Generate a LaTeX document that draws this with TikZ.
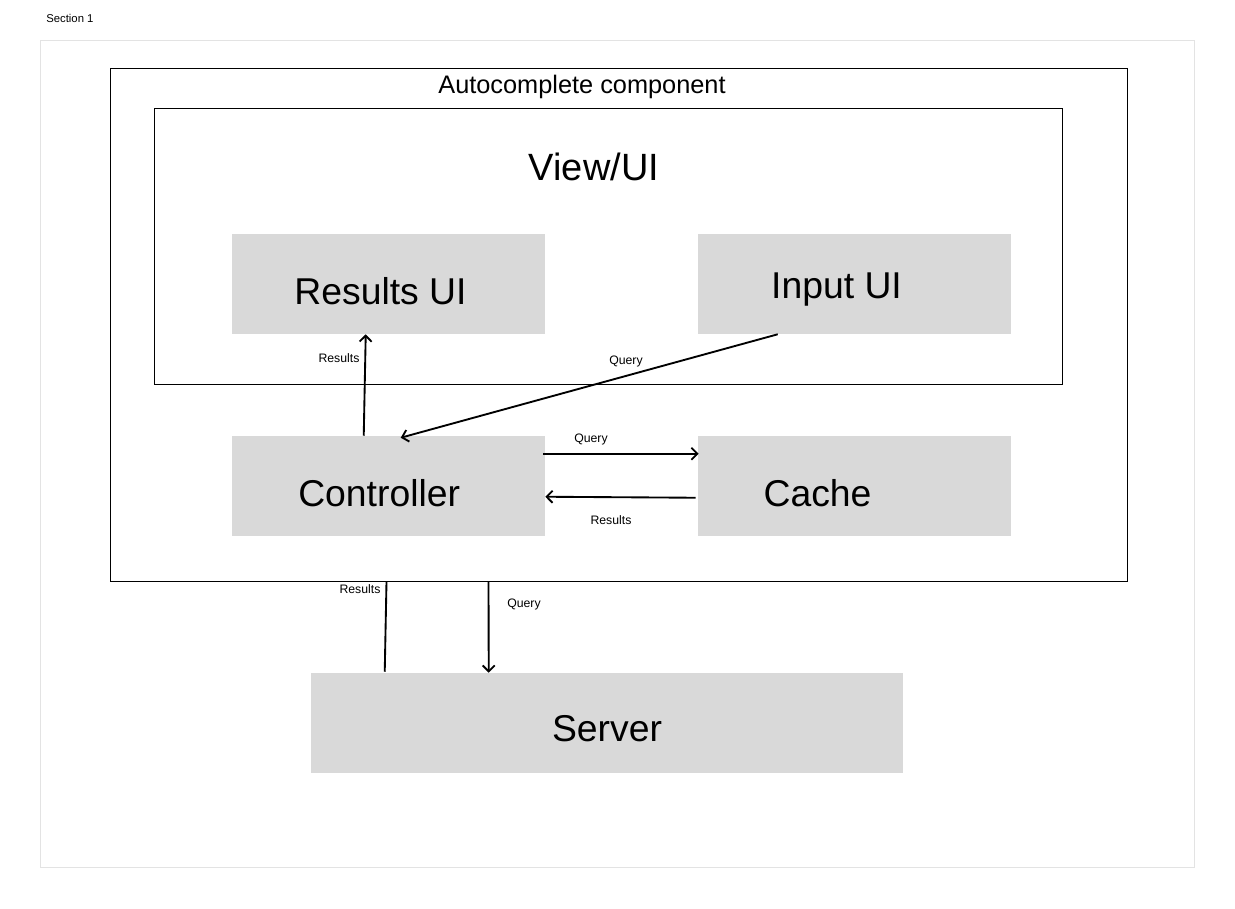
\documentclass[tikz,border=0pt]{standalone}
\usepackage{fontspec}
\setmainfont{Liberation Sans}
\usetikzlibrary{arrows.meta, calc}
\definecolor{boxgray}{HTML}{D9D9D9}
\definecolor{framegray}{HTML}{E3E3E3}

\begin{document}
\begin{tikzpicture}[x=0.75pt, y=-0.75pt,
  box/.style={fill=boxgray, minimum width=234.75pt, minimum height=75pt, inner sep=0pt, text height=30pt, text depth=0pt, font=\fontsize{28}{32}\selectfont},
  frame/.style={draw, line width=0.75pt, inner sep=0pt},
  arr/.style={-{Straight Barb[length=4.5pt, width=9pt]}, line width=1.4pt},
  wire/.style={line width=1.4pt},
  lbl/.style={font=\fontsize{9.2}{11}\selectfont, inner sep=1pt}]
  \useasboundingbox (0,0) rectangle (1235,908);

  % section frame
  \node[anchor=west, font=\fontsize{8.5}{10}\selectfont, inner sep=0pt] (section) at (46,18) {Section 1};
  \node[draw=framegray, line width=0.75pt, minimum width=865.5pt, minimum height=620.25pt] (sheet) at (617,453.5) {};

  % component and view frames
  \node[frame, minimum width=762.75pt, minimum height=384.75pt] (comp) at (618.5,324.5) {};
  \node[font=\fontsize{19}{22}\selectfont, inner sep=0pt] (comptitle) at (582,87) {Autocomplete component};
  \node[frame, minimum width=681pt, minimum height=207pt] (view) at (608,246) {};
  \node[font=\fontsize{28.5}{32}\selectfont, inner sep=0pt] (viewtitle) at (594,167) {View/UI};

  % blocks
  \node[box] (resultsui) at (388.5,284) {Results UI\hspace*{12pt}};
  \node[box, text height=21pt] (inputui) at (854.5,284) {Input UI\hspace*{27pt}};
  \node[box] (ctrl) at (388.5,486) {Controller\hspace*{14pt}};
  \node[box] (cache) at (854.5,486) {Cache\hspace*{55.5pt}};
  \node[box, minimum width=444pt, text height=28pt] (server) at (607,723) {Server};

  % connectors
  \draw[arr] ($(ctrl.north west)+(132,0)$) -- ($(resultsui.south west)+(134,0)$);
  \draw[arr] ($(inputui.south west)+(80,0)$) -- ($(ctrl.north west)+(169,2)$);
  \draw[arr] ($(ctrl.north east)+(-2,18)$) -- ($(cache.north west)+(1,18)$);
  \draw[arr] ($(cache.north west)+(-2,62)$) -- ($(ctrl.north east)+(0,61)$);
  \draw[wire] ($(server.north west)+(74,-1)$) -- ($(comp.south west)+(277,0)$);
  \draw[arr] ($(comp.south west)+(379,0)$) -- ($(server.north west)+(178,0)$);

  % labels
  \node[lbl] (lblresults1) at (339,358) {Results};
  \node[lbl] (lblquery1) at (626,361) {Query};
  \node[lbl] (lblquery2) at (591,439) {Query};
  \node[lbl] (lblresults2) at (611,520) {Results};
  \node[lbl] (lblresults3) at (360,589) {Results};
  \node[lbl] (lblquery3) at (524,604) {Query};
\end{tikzpicture}
\end{document}
